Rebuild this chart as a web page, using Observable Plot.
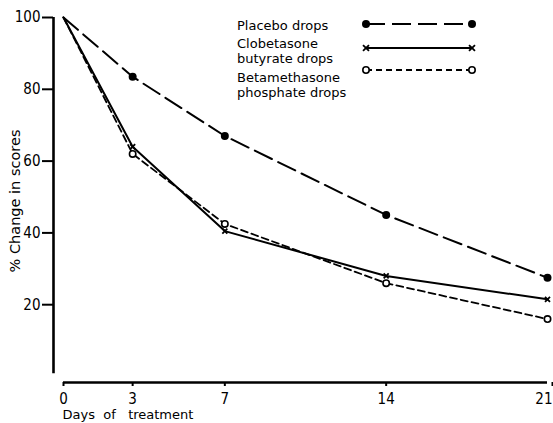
<!DOCTYPE html>
<html>
<head>
<meta charset="utf-8">
<script src="https://cdn.jsdelivr.net/npm/d3@7"></script>
<script src="https://cdn.jsdelivr.net/npm/@observablehq/plot@0.6"></script>
<style>
  html, body { margin: 0; padding: 0; background: #fff; }
  #wrap { position: relative; width: 553px; height: 423px; overflow: hidden; }
  #legend { position: absolute; left: 0; top: 0; }
</style>
</head>
<body>
<div id="wrap"></div>
<script>
// ---- data ----
const days = [0, 3, 7, 14, 21];
const placebo = [100, 83.5, 67, 45, 27.5];
const clobetasone = [100, 64, 40.5, 28, 21.5];
const betamethasone = [100, 62, 42.5, 26, 16];
const seriesNames = ["Placebo drops", "Clobetasone butyrate drops", "Betamethasone phosphate drops"];
const legendLines = [["Placebo drops"], ["Clobetasone", "butyrate drops"], ["Betamethasone", "phosphate drops"]];
const xTicks = [0, 3, 7, 14, 21];
const yTicks = [20, 40, 60, 80, 100];
const xLabel = "Days  of   treatment";
const yLabel = "% Change in scores";

const seriesValues = [placebo, clobetasone, betamethasone];
const rows = seriesNames.flatMap((s, i) => days.map((d, j) => ({series: s, day: d, value: seriesValues[i][j]})));
const bySeries = s => rows.filter(r => r.series === s);
const markers = s => bySeries(s).filter(r => r.day > 0);

const textFont = "'DejaVu Sans', sans-serif";
const numFont = "'Liberation Sans Narrow', 'DejaVu Sans Condensed', 'Liberation Sans', sans-serif";

const chart = Plot.plot({
  width: 553,
  height: 423,
  marginTop: 17,
  marginBottom: 47,
  marginLeft: 63,
  marginRight: 6,
  style: {fontFamily: textFont, fontSize: "13px", color: "#000", background: "#fff"},
  x: {domain: [0, 21]},
  y: {domain: [0, 100]},
  marks: [
    Plot.axisY({ticks: yTicks, tickSize: 11, dx: -10, tickPadding: 2, label: null,
      fontFamily: numFont, fontSize: 15, strokeWidth: 2}),
    Plot.axisX({ticks: xTicks.slice(0, -1), tickSize: 4, dy: 6, tickPadding: 7, label: null,
      fontFamily: numFont, fontSize: 15, strokeWidth: 2}),
    Plot.axisX({ticks: xTicks.slice(-1), tickSize: 4, dy: 6, tickPadding: 7, label: null,
      fontFamily: numFont, fontSize: 15, strokeWidth: 2, textAnchor: "end", dx: 5}),
    Plot.ruleX([0], {y1: 0.8, y2: 100, dx: -10, stroke: "#000", strokeWidth: 2.6}),
    Plot.ruleY([0], {x1: 0, x2: 21, dy: 6, stroke: "#000", strokeWidth: 2.6}),
    Plot.line(bySeries(seriesNames[0]), {x: "day", y: "value", stroke: "#000", strokeWidth: 2, strokeDasharray: "19,7"}),
    Plot.line(bySeries(seriesNames[1]), {x: "day", y: "value", stroke: "#000", strokeWidth: 2}),
    Plot.line(bySeries(seriesNames[2]), {x: "day", y: "value", stroke: "#000", strokeWidth: 1.8, strokeDasharray: "7,4"}),
    Plot.dot(markers(seriesNames[0]), {x: "day", y: "value", r: 4, fill: "#000", stroke: "none"}),
    Plot.dot(markers(seriesNames[1]), {x: "day", y: "value", r: 2.4, symbol: "times", stroke: "#000", strokeWidth: 1.8}),
    Plot.dot(markers(seriesNames[2]), {x: "day", y: "value", r: 3.2, fill: "#fff", stroke: "#000", strokeWidth: 1.6}),
    Plot.text([xLabel], {frameAnchor: "bottom-left", dx: -1, dy: 38, textAnchor: "start", lineAnchor: "middle",
      fontFamily: textFont, fontSize: 13, fill: "#000"}),
    Plot.text([yLabel], {frameAnchor: "left", dx: -48, dy: 4, rotate: -90, textAnchor: "middle", lineAnchor: "middle",
      fontFamily: textFont, fontSize: 14.5, fill: "#000"})
  ]
});
const wrap = document.getElementById("wrap");
wrap.appendChild(chart);

// ---- legend (overlay) ----
const lg = d3.select(wrap).append("svg").attr("id", "legend").attr("width", 553).attr("height", 110)
  .style("font-family", textFont).style("font-size", "13px");
const lineY = [24, 48, 70];
const textY = [[25], [43], [77]];
const dashes = ["19,7", null, "6,4"];
const lx1 = 366, lx2 = 472, tx = 237;
seriesNames.forEach((s, i) => {
  const g = lg.append("g");
  const t = g.append("text").attr("x", tx).attr("y", textY[i][0]);
  legendLines[i].forEach((line, k) => {
    t.append("tspan").attr("x", tx).attr("dy", k === 0 ? "0.35em" : "15px").text(line);
  });
  g.append("line").attr("x1", lx1).attr("x2", lx2).attr("y1", lineY[i]).attr("y2", lineY[i])
    .attr("stroke", "#000").attr("stroke-width", 2).attr("stroke-dasharray", dashes[i]);
  [lx1, lx2].forEach(x => {
    if (i === 0) g.append("circle").attr("cx", x).attr("cy", lineY[i]).attr("r", 4).attr("fill", "#000");
    else if (i === 1) g.append("path").attr("d", d3.symbol(d3.symbolTimes, 25)()).attr("transform", `translate(${x},${lineY[i]})`)
      .attr("stroke", "#000").attr("stroke-width", 1.8).attr("fill", "none");
    else g.append("circle").attr("cx", x).attr("cy", lineY[i]).attr("r", 3.2).attr("fill", "#fff").attr("stroke", "#000").attr("stroke-width", 1.6);
  });
});
</script>
</body>
</html>
